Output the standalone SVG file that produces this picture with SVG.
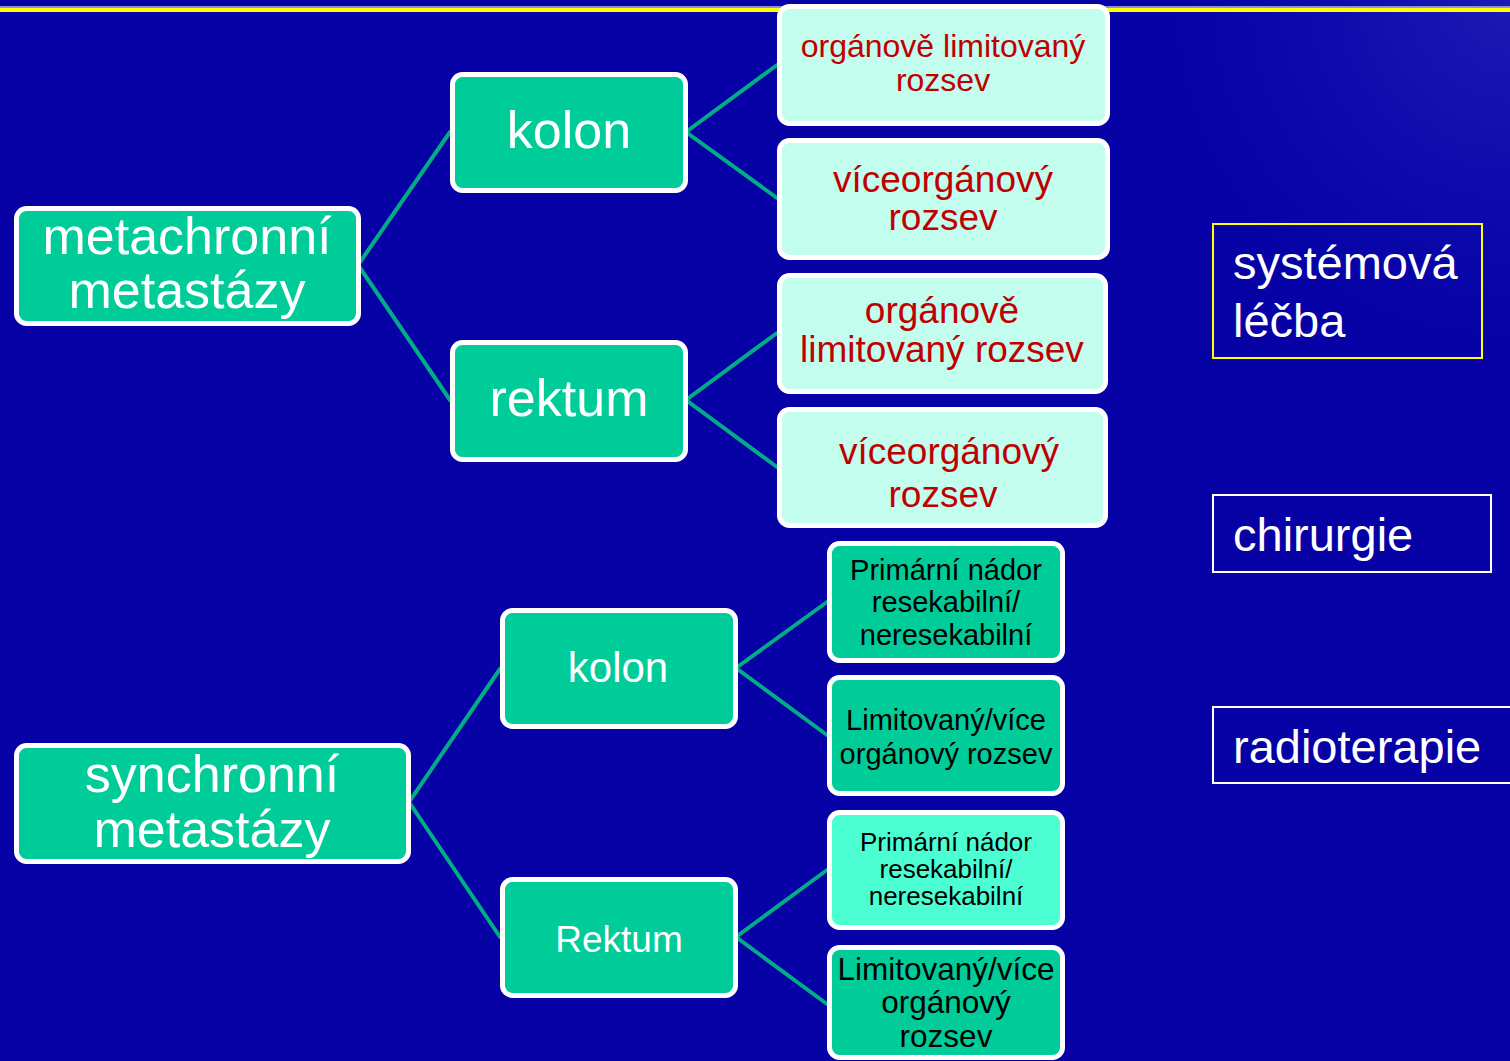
<svg xmlns="http://www.w3.org/2000/svg" width="1510" height="1061" viewBox="0 0 1510 1061">
  <defs>
    <radialGradient id="glow" cx="1510" cy="0" r="340" gradientUnits="userSpaceOnUse">
      <stop offset="0" stop-color="#1C1AB4"/>
      <stop offset="0.5" stop-color="#0E0CAC"/>
      <stop offset="1" stop-color="#0602A6"/>
    </radialGradient>
    <style>
      text { font-family: "Liberation Sans", Arial, sans-serif; }
      .box { fill: #00CC99; stroke: #FFFFFF; stroke-width: 5; }
      .light { fill: #C2FDEE; stroke: #FFFFFF; stroke-width: 5; }
      .aqua { fill: #4CFFD2; stroke: #FFFFFF; stroke-width: 5; }
      .w { fill: #FFFFFF; text-anchor: middle; }
      .r { fill: #C00000; text-anchor: middle; }
      .k { fill: #000000; text-anchor: middle; }
      .side { fill: none; stroke-width: 2; }
      .sideText { fill: #FFFFFF; font-size: 47px; }
      .link { stroke: #00AD85; stroke-width: 4; fill: none; stroke-linecap: round; }
    </style>
  </defs>

  <!-- background -->
  <rect x="0" y="0" width="1510" height="1061" fill="#0602A6"/>
  <rect x="0" y="0" width="1510" height="1061" fill="url(#glow)"/>
  <rect x="0" y="6" width="1510" height="1.5" fill="#8C8CD8"/>
  <rect x="0" y="7.5" width="1510" height="4.5" fill="#FFFF00"/>

  <!-- connectors -->
  <g id="connectors">
    <polyline class="link" points="450,132 358,265 450,400"/>
    <polyline class="link" points="777,65 686,132 777,198"/>
    <polyline class="link" points="777,333 686,400 777,467"/>
    <polyline class="link" points="500,669 409,802 500,937"/>
    <polyline class="link" points="827,602 736,668 827,735"/>
    <polyline class="link" points="827,870 736,937 827,1004"/>
  </g>

  <!-- metachronous branch -->
  <g id="metachronni">
    <rect class="box" x="16.5" y="208.5" width="342" height="115" rx="10"/>
    <text class="w" x="187" y="254" font-size="52">metachronní</text>
    <text class="w" x="187" y="308" font-size="52">metastázy</text>
  </g>
  <g id="kolon-meta">
    <rect class="box" x="452.5" y="74.5" width="233" height="116" rx="10"/>
    <text class="w" x="569" y="148" font-size="52">kolon</text>
  </g>
  <g id="rektum-meta">
    <rect class="box" x="452.5" y="342.5" width="233" height="117" rx="10"/>
    <text class="w" x="569" y="416" font-size="52">rektum</text>
  </g>
  <g id="kolon-limit">
    <rect class="light" x="779.5" y="6.5" width="328" height="117" rx="10"/>
    <text class="r" x="943" y="57" font-size="32">orgánově limitovaný</text>
    <text class="r" x="943" y="91" font-size="32">rozsev</text>
  </g>
  <g id="kolon-multi">
    <rect class="light" x="779.5" y="140.5" width="328" height="117" rx="10"/>
    <text class="r" x="943" y="192" font-size="37">víceorgánový</text>
    <text class="r" x="943" y="230" font-size="37">rozsev</text>
  </g>
  <g id="rektum-limit">
    <rect class="light" x="779.5" y="275.5" width="326" height="116" rx="10"/>
    <text class="r" x="942" y="323" font-size="37">orgánově</text>
    <text class="r" x="942" y="362" font-size="37">limitovaný rozsev</text>
  </g>
  <g id="rektum-multi">
    <rect class="light" x="779.5" y="409.5" width="326" height="116" rx="10"/>
    <text class="r" x="949" y="464" font-size="37">víceorgánový</text>
    <text class="r" x="943" y="507" font-size="37">rozsev</text>
  </g>

  <!-- synchronous branch -->
  <g id="synchronni">
    <rect class="box" x="16.5" y="745.5" width="392" height="116" rx="10"/>
    <text class="w" x="212" y="792" font-size="52">synchronní</text>
    <text class="w" x="212" y="847" font-size="52">metastázy</text>
  </g>
  <g id="kolon-sync">
    <rect class="box" x="502.5" y="610.5" width="233" height="116" rx="10"/>
    <text class="w" x="618" y="682" font-size="42">kolon</text>
  </g>
  <g id="rektum-sync">
    <rect class="box" x="502.5" y="879.5" width="233" height="116" rx="10"/>
    <text class="w" x="619" y="952" font-size="37">Rektum</text>
  </g>
  <g id="kolon-primary">
    <rect class="box" x="829.5" y="543.5" width="233" height="117" rx="10"/>
    <text class="k" x="946" y="580" font-size="29">Primární nádor</text>
    <text class="k" x="946" y="612" font-size="29">resekabilní/</text>
    <text class="k" x="946" y="645" font-size="29">neresekabilní</text>
  </g>
  <g id="kolon-spread">
    <rect class="box" x="829.5" y="677.5" width="233" height="116" rx="10"/>
    <text class="k" x="946" y="730" font-size="29">Limitovaný/více</text>
    <text class="k" x="946" y="764" font-size="29">orgánový rozsev</text>
  </g>
  <g id="rektum-primary">
    <rect class="aqua" x="829.5" y="812.5" width="233" height="115" rx="10"/>
    <text class="k" x="946" y="851" font-size="26">Primární nádor</text>
    <text class="k" x="946" y="878" font-size="26">resekabilní/</text>
    <text class="k" x="946" y="905" font-size="26">neresekabilní</text>
  </g>
  <g id="rektum-spread">
    <rect class="box" x="829.5" y="947.5" width="233" height="110" rx="10"/>
    <text class="k" x="946" y="980" font-size="31.5">Limitovaný/více</text>
    <text class="k" x="946" y="1013" font-size="31.5">orgánový</text>
    <text class="k" x="946" y="1047" font-size="31.5">rozsev</text>
  </g>

  <!-- treatment options -->
  <g id="systemova-lecba">
    <rect class="side" stroke="#FFFF00" x="1213" y="224" width="269" height="134"/>
    <text class="sideText" x="1233" y="279">systémová</text>
    <text class="sideText" x="1233" y="337">léčba</text>
  </g>
  <g id="chirurgie">
    <rect class="side" stroke="#FFFFFF" x="1213" y="495" width="278" height="77"/>
    <text class="sideText" x="1233" y="551">chirurgie</text>
  </g>
  <g id="radioterapie">
    <rect class="side" stroke="#FFFFFF" x="1213" y="707" width="310" height="76"/>
    <text class="sideText" x="1233" y="763">radioterapie</text>
  </g>
</svg>
